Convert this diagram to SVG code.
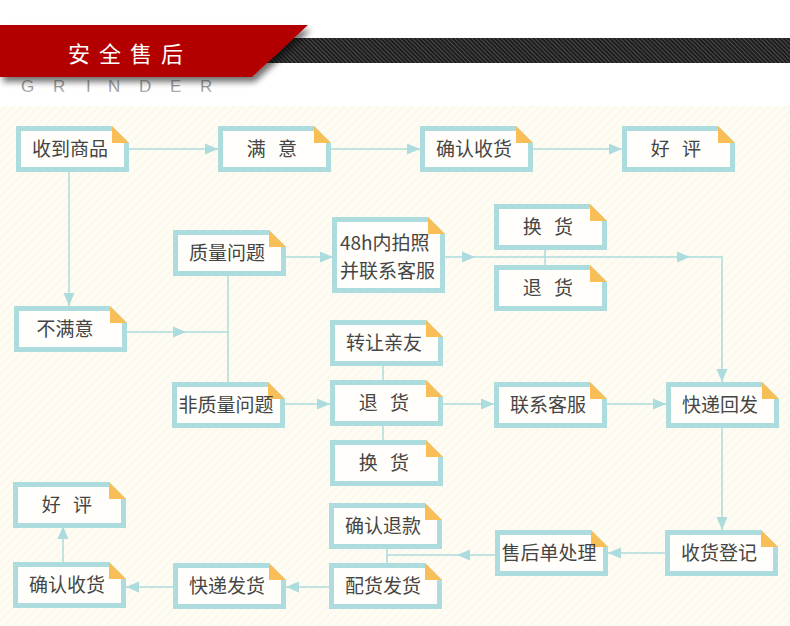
<svg xmlns="http://www.w3.org/2000/svg" xmlns:xlink="http://www.w3.org/1999/xlink" width="790" height="626" viewBox="0 0 790 626">
<defs>
<style>
.lbl{font-family:"Noto Sans CJK SC","Noto Sans",sans-serif;font-size:19px;fill:#454545;text-anchor:middle}
.sp{letter-spacing:4px}
.lbl2{font-family:"Noto Sans CJK SC","Noto Sans",sans-serif;font-size:19px;fill:#454545}
.ln{stroke:#acdcdd;stroke-width:1.5;fill:none}
.ah{fill:#acdcdd}
.brd{fill:#acdcdd}
.inr{fill:#fffefa}
.fold{fill:#f8bf58}
</style>
<pattern id="bgp" width="6" height="6" patternUnits="userSpaceOnUse" patternTransform="rotate(45)">
<rect width="6" height="6" fill="#fefcf4"/>
<rect width="2" height="6" fill="#fcf8ea"/>
</pattern>
<pattern id="barp" width="3" height="3" patternUnits="userSpaceOnUse" patternTransform="rotate(-45)">
<rect width="3" height="3" fill="#1e1e1e"/>
<rect width="1" height="3" fill="#4a4a4a"/>
</pattern>
<filter id="sh" x="-10%" y="-30%" width="130%" height="180%">
<feGaussianBlur in="SourceAlpha" stdDeviation="3"/>
<feOffset dx="3" dy="5" result="b"/>
<feComponentTransfer><feFuncA type="linear" slope="0.55"/></feComponentTransfer>
<feMerge><feMergeNode/><feMergeNode in="SourceGraphic"/></feMerge>
</filter>
<linearGradient id="gg" x1="0" y1="0" x2="0" y2="1">
<stop offset="0" stop-color="#5a5a5a"/>
<stop offset="1" stop-color="#c8c8c8"/>
</linearGradient>
<g id="box">
<polygon class="brd" points="0,0 96,0 113,17 113,46 0,46"/>
<polygon class="inr" points="5,5 96,5 108,17 108,41 5,41"/>
<polygon class="fold" points="96,0 113,17 96,17"/>
</g>
<g id="boxT">
<polygon class="brd" points="0,0 96,0 113,17 113,76 0,76"/>
<polygon class="inr" points="5,5 96,5 108,17 108,71 5,71"/>
<polygon class="fold" points="96,0 113,17 96,17"/>
</g>
<path id="ah" class="ah" d="M0,0 L-13,-5.5 L-13,5.5 Z"/>
</defs>

<rect x="0" y="0" width="790" height="626" fill="#ffffff"/>
<rect x="0" y="106" width="790" height="520" fill="url(#bgp)"/>

<g id="header">
<rect x="265" y="38" width="525" height="25" fill="url(#barp)"/>
<polygon points="0,25 308,25 252,77 0,77" fill="#b20000" filter="url(#sh)"/>
<text x="68" y="62" font-family="'Noto Sans CJK SC','Noto Sans',sans-serif" font-size="22" fill="#ffffff" letter-spacing="9">安全售后</text>
<text y="92" font-family="'Liberation Sans',Arial,sans-serif" font-size="17" fill="url(#gg)"><tspan x="21">G</tspan><tspan x="53">R</tspan><tspan x="86">I</tspan><tspan x="108">N</tspan><tspan x="139">D</tspan><tspan x="170">E</tspan><tspan x="200">R</tspan></text>
</g>

<g id="connectors">
<path class="ln" d="M128,149 H218"/>
<use xlink:href="#ah" transform="translate(218,149)"/>
<path class="ln" d="M331,149 H420"/>
<use xlink:href="#ah" transform="translate(420,149)"/>
<path class="ln" d="M533,149 H622"/>
<use xlink:href="#ah" transform="translate(622,149)"/>
<path class="ln" d="M69,172 V306"/>
<use xlink:href="#ah" transform="translate(69,306) rotate(90)"/>
<path class="ln" d="M127,332 H228"/>
<use xlink:href="#ah" transform="translate(186,332)"/>
<path class="ln" d="M228,276 V382"/>
<path class="ln" d="M286,257 H332"/>
<use xlink:href="#ah" transform="translate(333,257)"/>
<path class="ln" d="M445,257 H722 V382"/>
<use xlink:href="#ah" transform="translate(475,257)"/>
<use xlink:href="#ah" transform="translate(690,257)"/>
<use xlink:href="#ah" transform="translate(722,382) rotate(90)"/>
<path class="ln" d="M545,249 V265"/>
<path class="ln" d="M285,404 H330"/>
<use xlink:href="#ah" transform="translate(330,404)"/>
<path class="ln" d="M383,365 V380 M383,425 V440"/>
<path class="ln" d="M442,404 H494"/>
<use xlink:href="#ah" transform="translate(494,404)"/>
<path class="ln" d="M607,404 H666"/>
<use xlink:href="#ah" transform="translate(666,404)"/>
<path class="ln" d="M722,427 V530"/>
<use xlink:href="#ah" transform="translate(722,530) rotate(90)"/>
<path class="ln" d="M665,553 H608"/>
<use xlink:href="#ah" transform="translate(608,553) rotate(180)"/>
<path class="ln" d="M495,555 H387 M387,548 V563"/>
<use xlink:href="#ah" transform="translate(457,555) rotate(180)"/>
<path class="ln" d="M329,587 H286"/>
<use xlink:href="#ah" transform="translate(286,587) rotate(180)"/>
<path class="ln" d="M173,587 H126"/>
<use xlink:href="#ah" transform="translate(126,587) rotate(180)"/>
<path class="ln" d="M63,562 V526"/>
<use xlink:href="#ah" transform="translate(63,526) rotate(-90)"/>
</g>

<g id="n1" transform="translate(16,126)"><use xlink:href="#box"/><text class="lbl" x="54" y="30">收到商品</text></g>
<g id="n2" transform="translate(218,126)"><use xlink:href="#box"/><text class="lbl sp" x="56" y="30">满 意</text></g>
<g id="n3" transform="translate(420,126)"><use xlink:href="#box"/><text class="lbl" x="54" y="30">确认收货</text></g>
<g id="n4" transform="translate(622,126)"><use xlink:href="#box"/><text class="lbl sp" x="56" y="30">好 评</text></g>
<g id="n5" transform="translate(173,230)"><use xlink:href="#box"/><text class="lbl" x="54" y="30">质量问题</text></g>
<g id="n6" transform="translate(332,217)"><use xlink:href="#boxT"/><text class="lbl2" x="8" y="33">48h内拍照</text><text class="lbl2" x="8" y="61">并联系客服</text></g>
<g id="n7" transform="translate(494,204)"><use xlink:href="#box"/><text class="lbl sp" x="56" y="30">换 货</text></g>
<g id="n8" transform="translate(494,265)"><use xlink:href="#box"/><text class="lbl sp" x="56" y="30">退 货</text></g>
<g id="n9" transform="translate(14,306)"><use xlink:href="#box"/><text class="lbl" x="51" y="30">不满意</text></g>
<g id="n10" transform="translate(172,382)"><use xlink:href="#box"/><text class="lbl" x="54" y="30">非质量问题</text></g>
<g id="n11" transform="translate(330,320)"><use xlink:href="#box"/><text class="lbl" x="54" y="30">转让亲友</text></g>
<g id="n12" transform="translate(330,380)"><use xlink:href="#box"/><text class="lbl sp" x="56" y="30">退 货</text></g>
<g id="n13" transform="translate(330,440)"><use xlink:href="#box"/><text class="lbl sp" x="56" y="30">换 货</text></g>
<g id="n14" transform="translate(494,382)"><use xlink:href="#box"/><text class="lbl" x="54" y="30">联系客服</text></g>
<g id="n15" transform="translate(666,382)"><use xlink:href="#box"/><text class="lbl" x="54" y="30">快递回发</text></g>
<g id="n16" transform="translate(665,530)"><use xlink:href="#box"/><text class="lbl" x="54" y="30">收货登记</text></g>
<g id="n17" transform="translate(495,530)"><use xlink:href="#box"/><text class="lbl" x="54" y="30">售后单处理</text></g>
<g id="n18" transform="translate(329,503)"><use xlink:href="#box"/><text class="lbl" x="54" y="30">确认退款</text></g>
<g id="n19" transform="translate(329,563)"><use xlink:href="#box"/><text class="lbl" x="54" y="30">配货发货</text></g>
<g id="n20" transform="translate(173,563)"><use xlink:href="#box"/><text class="lbl" x="54" y="30">快递发货</text></g>
<g id="n21" transform="translate(13,562)"><use xlink:href="#box"/><text class="lbl" x="54" y="30">确认收货</text></g>
<g id="n22" transform="translate(13,482)"><use xlink:href="#box"/><text class="lbl sp" x="56" y="30">好 评</text></g>
</svg>
